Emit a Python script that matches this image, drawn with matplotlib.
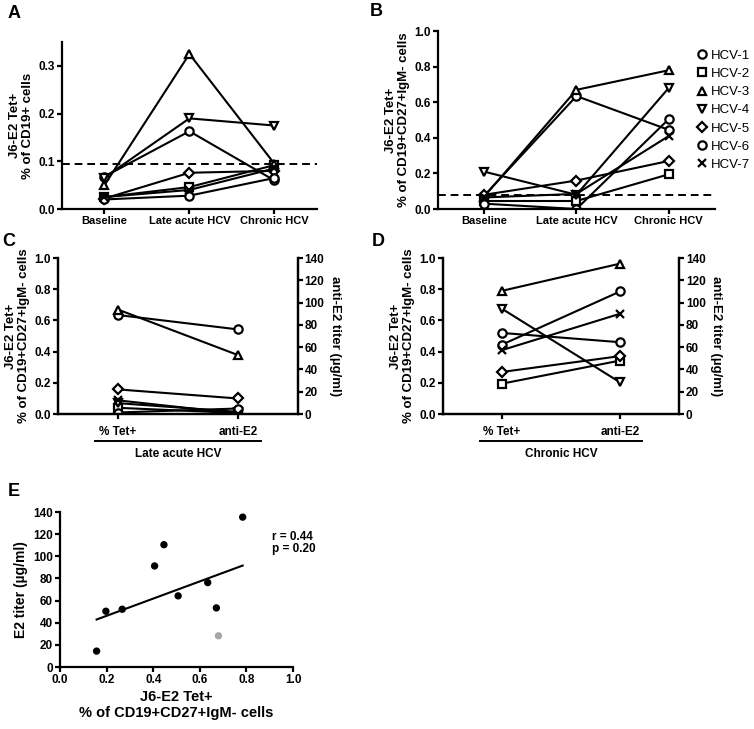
import numpy as np
import matplotlib.pyplot as plt
from matplotlib.lines import Line2D
import matplotlib.transforms as mtransforms

plt.rcParams['font.family'] = 'Liberation Sans'
plt.rcParams['font.weight'] = 'bold'
plt.rcParams['axes.linewidth'] = 1.6

patients = ['HCV-1', 'HCV-2', 'HCV-3', 'HCV-4', 'HCV-5', 'HCV-6', 'HCV-7']
markers = ['o', 's', '^', 'v', 'D', 'o', 'x']
timepoints = ['Baseline', 'Late acute HCV', 'Chronic HCV']

# panel A: % of CD19+ cells (baseline, late acute, chronic)
tet_cd19 = [
    [0.068, 0.163, 0.060],
    [0.025, 0.046, 0.092],
    [0.050, 0.325, 0.095],
    [0.066, 0.190, 0.175],
    [0.022, 0.076, 0.080],
    [0.020, 0.028, 0.065],
    [0.025, 0.040, 0.085],
]
cutoff_a = 0.095

# panel B: % of CD19+CD27+IgM- cells
tet_mem = [
    [0.075, 0.635, 0.445],
    [0.045, 0.045, 0.195],
    [0.070, 0.670, 0.780],
    [0.210, 0.080, 0.680],
    [0.080, 0.160, 0.270],
    [0.030, 0.000, 0.505],
    [0.065, 0.085, 0.410],
]
cutoff_b = 0.08

# panel C: late acute, % Tet+ and anti-E2 titer (ug/ml)
late_tet = [0.635, 0.040, 0.670, 0.070, 0.158, 0.010, 0.088]
late_titer = [76, 1, 53, 2, 14, 5, 0.5]

# panel D: chronic
chron_tet = [0.445, 0.195, 0.790, 0.675, 0.270, 0.520, 0.410]
chron_titer = [110, 48, 135, 28.5, 52, 64.5, 90]

# panel E: scatter
e_x = [0.157, 0.197, 0.267, 0.406, 0.446, 0.507, 0.634, 0.671, 0.680, 0.784]
e_y = [14.4, 50.4, 52.2, 91.3, 110.5, 64.3, 76.3, 53.4, 28.2, 135.4]
e_grey = [False, False, False, False, False, False, False, False, True, False]
r_text = 'r = 0.44\np = 0.20'

titer_max = 140

fig = plt.figure(figsize=(7.54, 7.29), dpi=100)

def mstyle(m):
    ms = 5.0 if m == 'D' else 6.0
    return dict(marker=m, markersize=ms, markerfacecolor='white',
                markeredgecolor='black', markeredgewidth=1.6, color='black', lw=1.5)

def style_ax(ax):
    ax.spines['top'].set_visible(False)
    ax.spines['right'].set_visible(False)
    ax.tick_params(width=1.6, length=3.5, pad=1.5, labelsize=8.5)
    for lab in ax.get_xticklabels() + ax.get_yticklabels():
        lab.set_fontweight('bold')

# ---- A
axA = fig.add_axes([0.0822, 0.7133, 0.338, 0.229])
x = np.arange(len(timepoints))
for vals, m in zip(tet_cd19, markers):
    axA.plot(x, vals, **mstyle(m))
axA.axhline(cutoff_a, color='black', lw=1.4, ls=(0, (4, 2.5)))
axA.set_xlim(-0.5, 2.5)
axA.set_ylim(0, 0.35)
axA.set_yticks([0.0, 0.1, 0.2, 0.3])
axA.set_yticklabels(['0.0', '0.1', '0.2', '0.3'])
axA.set_xticks(x)
axA.set_xticklabels(timepoints)
axA.set_ylabel('J6-E2 Tet+\n% of CD19+ cells', fontsize=9.5, fontweight='bold', labelpad=3)
style_ax(axA)
for lab in axA.get_xticklabels():
    lab.set_fontsize(8)

# ---- B
axB = fig.add_axes([0.581, 0.7133, 0.367, 0.244])
for vals, m in zip(tet_mem, markers):
    axB.plot(x, vals, **mstyle(m))
axB.axhline(cutoff_b, color='black', lw=1.4, ls=(0, (4, 2.5)))
axB.set_xlim(-0.5, 2.5)
axB.set_ylim(0, 1.0)
axB.set_yticks(np.arange(0, 1.01, 0.2))
axB.set_yticklabels(['0.0', '0.2', '0.4', '0.6', '0.8', '1.0'])
axB.set_xticks(x)
axB.set_xticklabels(timepoints)
axB.set_ylabel('J6-E2 Tet+\n% of CD19+CD27+IgM- cells', fontsize=9.5, fontweight='bold', labelpad=3)
style_ax(axB)
for lab in axB.get_xticklabels():
    lab.set_fontsize(8)

handles = [Line2D([], [], ls='none', **{k: v for k, v in mstyle(m).items() if k not in ('color', 'lw')})
           for m in markers]
fig.legend(handles, patients, loc='upper left', bbox_to_anchor=(0.924, 0.932),
           frameon=False, handletextpad=0.3, labelspacing=0.45, handlelength=0.8,
           borderpad=0, borderaxespad=0,
           prop={'family': 'Liberation Sans', 'weight': 'normal', 'size': 9.5})

# ---- C and D
def paired(rect, tet, titer, group):
    ax = fig.add_axes(rect)
    scale = 1.0 / titer_max
    for t, tt, m in zip(tet, titer, markers):
        ax.plot([0, 1], [t, tt * scale], **mstyle(m))
    ax.set_xlim(-0.5, 1.5)
    ax.set_ylim(0, 1.0)
    ax.set_yticks(np.arange(0, 1.01, 0.2))
    ax.set_yticklabels(['0.0', '0.2', '0.4', '0.6', '0.8', '1.0'])
    ax.set_xticks([0, 1])
    ax.set_xticklabels(['% Tet+', 'anti-E2'])
    ax.set_ylabel('J6-E2 Tet+\n% of CD19+CD27+IgM- cells', fontsize=9.5, fontweight='bold', labelpad=3)
    ax.spines['top'].set_visible(False)
    ax.tick_params(width=1.6, length=3.5, pad=1.5, labelsize=8.5)
    ax.tick_params(axis='x', pad=5)
    for lab in ax.get_xticklabels() + ax.get_yticklabels():
        lab.set_fontweight('bold')
    for lab in ax.get_xticklabels():
        lab.set_fontsize(8.5)
    ax2 = ax.twinx()
    ax2.set_ylim(0, titer_max)
    ax2.set_yticks(np.arange(0, titer_max + 1, 20))
    ax2.spines['top'].set_visible(False)
    ax2.tick_params(width=1.6, length=3.5, pad=1.5, labelsize=8.5)
    for lab in ax2.get_yticklabels():
        lab.set_fontweight('bold')
    ax2.set_ylabel('anti-E2 titer (\u00b5g/ml)', rotation=270, fontsize=9.5,
                   fontweight='bold', labelpad=12)
    trans = mtransforms.blended_transform_factory(ax.transData, ax.transAxes)
    ax.plot([-0.19, 1.19], [-0.175, -0.175], color='black', lw=1.4,
            transform=trans, clip_on=False)
    ax.text(0.5, -0.255, group, transform=trans, ha='center', va='center',
            fontsize=8.5, fontweight='bold')
    return ax

paired([0.0769, 0.432, 0.318, 0.214], late_tet, late_titer, 'Late acute HCV')
paired([0.5875, 0.432, 0.313, 0.214], chron_tet, chron_titer, 'Chronic HCV')

# ---- E
axE = fig.add_axes([0.0796, 0.085, 0.309, 0.2126])
cols = ['#a6a6a6' if g else 'black' for g in e_grey]
axE.scatter(e_x, e_y, c=cols, s=28, zorder=3, edgecolors='none')
slope, icpt = np.polyfit(e_x, e_y, 1)
xx = np.array([min(e_x), max(e_x)])
axE.plot(xx, slope * xx + icpt, color='black', lw=1.5)
axE.set_xlim(0, 1.0)
axE.set_ylim(0, 140)
axE.set_xticks(np.arange(0, 1.01, 0.2))
axE.set_xticklabels(['0.0', '0.2', '0.4', '0.6', '0.8', '1.0'])
axE.set_yticks(np.arange(0, 141, 20))
axE.text(0.91, 112, r_text, ha='left', va='center', fontsize=8.5, fontweight='bold',
         linespacing=1.1)
axE.set_xlabel('J6-E2 Tet+\n% of CD19+CD27+IgM- cells', fontsize=10.5, fontweight='bold',
               labelpad=3)
axE.set_ylabel('E2 titer (\u00b5g/ml)', fontsize=10, fontweight='bold', labelpad=4)
style_ax(axE)

# panel letters
for lbl, px, py in [('A', 8, 14), ('B', 370, 11), ('C', 2, 241), ('D', 372, 241), ('E', 8, 491)]:
    fig.text(px / 754, 1 - py / 729, lbl, fontsize=13, fontweight='bold', va='center', ha='left')

fig.savefig('out.png', dpi=100)
